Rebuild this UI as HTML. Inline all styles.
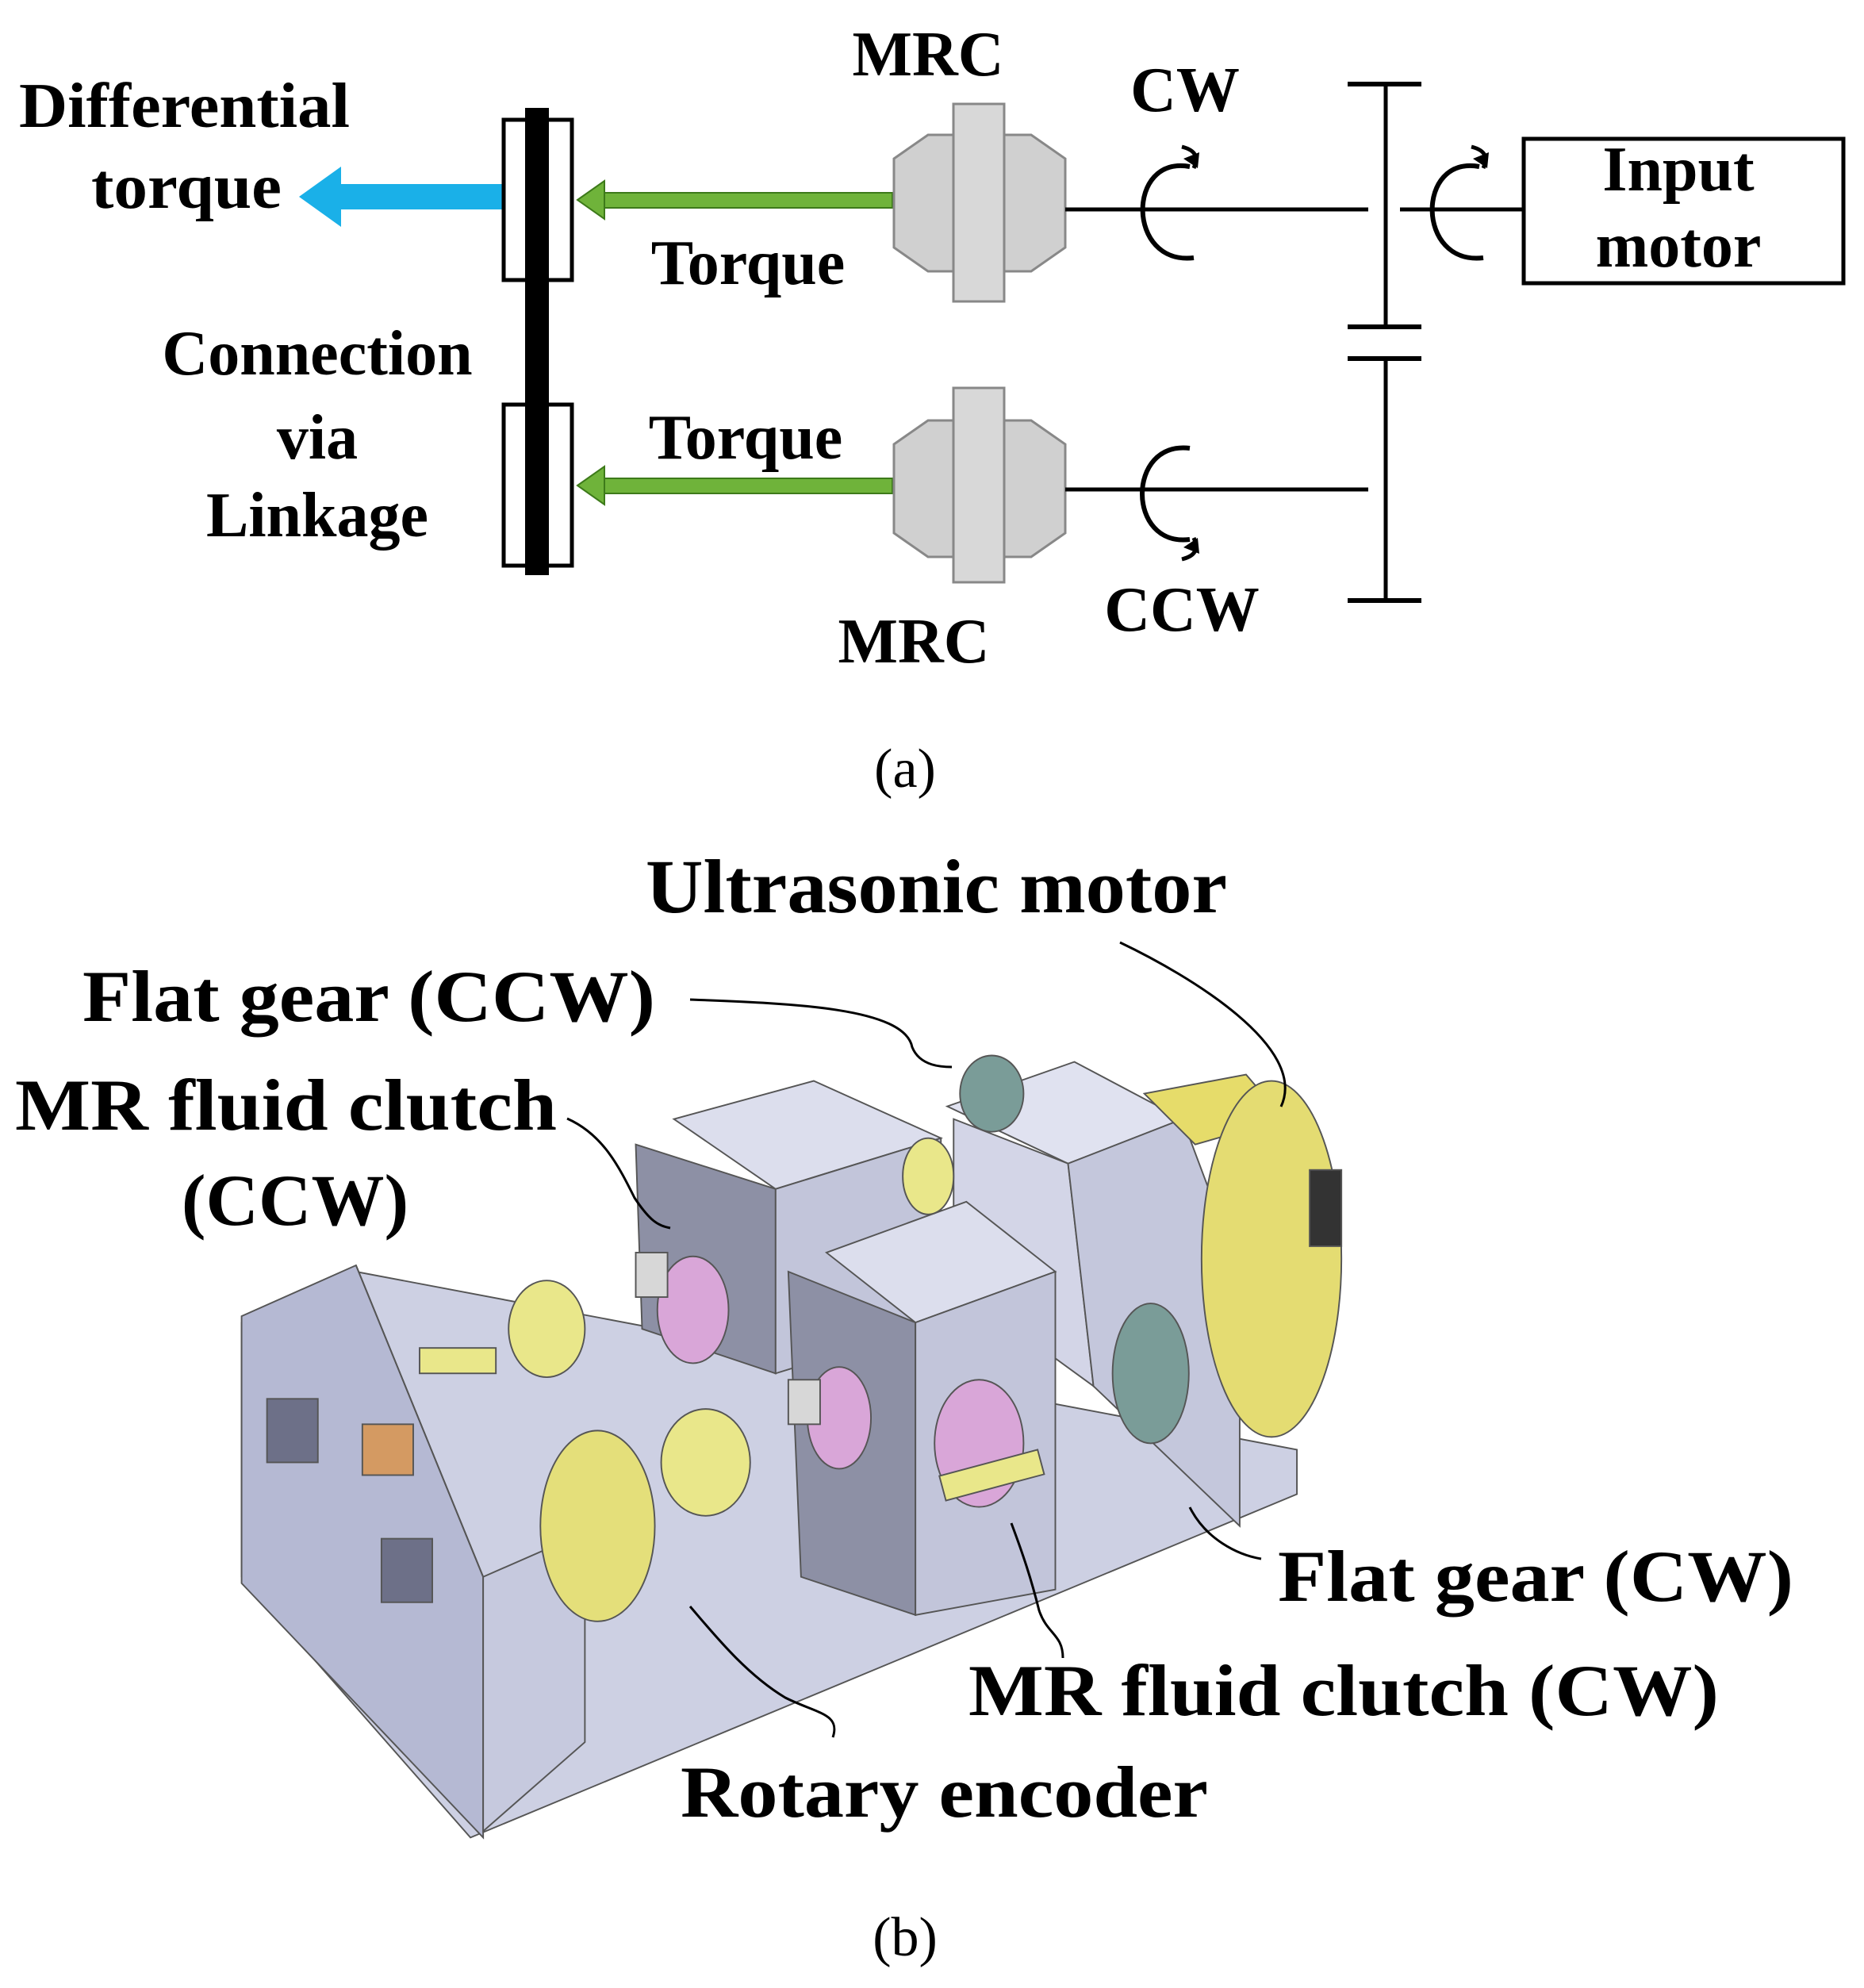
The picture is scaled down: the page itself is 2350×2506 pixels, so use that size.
<!DOCTYPE html>
<html><head><meta charset="utf-8"><style>
html,body{margin:0;padding:0;background:#fff;}
svg{display:block;}
text{font-family:"Liberation Serif",serif;font-weight:bold;fill:#000;}
</style></head><body>
<svg width="2350" height="2506" viewBox="0 0 2350 2506" xmlns="http://www.w3.org/2000/svg">
<defs>
<marker id="ah" markerWidth="10" markerHeight="10" refX="5" refY="5" orient="auto" markerUnits="userSpaceOnUse"></marker>
</defs>
<!-- Part (a) -->
<text x="24" y="160" font-size="80" textLength="417" lengthAdjust="spacingAndGlyphs">Differential</text>
<text x="115" y="262" font-size="80" textLength="240" lengthAdjust="spacingAndGlyphs">torque</text>
<!-- blue arrow -->
<rect x="430" y="232" width="205" height="32" fill="#1ab0e8"/>
<polygon points="377,248 430,210 430,286" fill="#1ab0e8"/>
<!-- linkage -->
<rect x="635" y="151" width="86" height="202" fill="#fff" stroke="#000" stroke-width="5"/>
<rect x="635" y="510" width="86" height="203" fill="#fff" stroke="#000" stroke-width="5"/>
<rect x="662" y="136" width="30" height="589" fill="#000"/>
<!-- green arrows -->
<rect x="760" y="243" width="365" height="19" fill="#6fb33a" stroke="#3d7a1a" stroke-width="2"/>
<polygon points="728,252 762,228 762,276" fill="#6fb33a" stroke="#3d7a1a" stroke-width="2"/>
<rect x="760" y="603" width="365" height="19" fill="#6fb33a" stroke="#3d7a1a" stroke-width="2"/>
<polygon points="728,612 762,588 762,636" fill="#6fb33a" stroke="#3d7a1a" stroke-width="2"/>
<!-- MRC upper -->
<polygon points="1127,200 1170,170 1300,170 1343,200 1343,312 1300,342 1170,342 1127,312" fill="#d0d0d0" stroke="#888" stroke-width="3"/>
<rect x="1202" y="131" width="64" height="249" fill="#d8d8d8" stroke="#888" stroke-width="3"/>
<!-- MRC lower -->
<polygon points="1127,560 1170,530 1300,530 1343,560 1343,672 1300,702 1170,702 1127,672" fill="#d0d0d0" stroke="#888" stroke-width="3"/>
<rect x="1202" y="489" width="64" height="245" fill="#d8d8d8" stroke="#888" stroke-width="3"/>
<!-- shafts -->
<line x1="1343" y1="264" x2="1725" y2="264" stroke="#000" stroke-width="5"/>
<line x1="1343" y1="617" x2="1725" y2="617" stroke="#000" stroke-width="5"/>
<line x1="1765" y1="264" x2="1919" y2="264" stroke="#000" stroke-width="5"/>
<!-- gears -->
<line x1="1747" y1="104" x2="1747" y2="412" stroke="#000" stroke-width="5"/>
<line x1="1699" y1="106" x2="1792" y2="106" stroke="#000" stroke-width="6"/>
<line x1="1699" y1="412" x2="1792" y2="412" stroke="#000" stroke-width="6"/>
<line x1="1747" y1="452" x2="1747" y2="757" stroke="#000" stroke-width="5"/>
<line x1="1699" y1="452" x2="1792" y2="452" stroke="#000" stroke-width="6"/>
<line x1="1699" y1="757" x2="1792" y2="757" stroke="#000" stroke-width="6"/>
<!-- input motor -->
<rect x="1921" y="175" width="403" height="182" fill="#fff" stroke="#000" stroke-width="5"/>
<text x="2116" y="240" font-size="80" text-anchor="middle">Input</text>
<text x="2116" y="336" font-size="80" text-anchor="middle">motor</text>
<!-- rotation symbols -->
<path d="M1500,210 C1420,195 1420,335 1505,325" fill="none" stroke="#000" stroke-width="6"/>
<path d="M1490,185 C1510,190 1510,200 1505,212" fill="none" stroke="#000" stroke-width="5"/>
<polygon points="1492,200 1510,212 1512,192" fill="#000"/>
<path d="M1865,210 C1785,195 1785,335 1870,325" fill="none" stroke="#000" stroke-width="6"/>
<path d="M1855,185 C1875,190 1875,200 1870,212" fill="none" stroke="#000" stroke-width="5"/>
<polygon points="1857,200 1875,212 1877,192" fill="#000"/>
<path d="M1500,565 C1420,555 1420,690 1500,680" fill="none" stroke="#000" stroke-width="6"/>
<path d="M1490,705 C1510,700 1510,690 1505,678" fill="none" stroke="#000" stroke-width="5"/>
<polygon points="1492,690 1510,678 1512,698" fill="#000"/>
<!-- labels -->
<text x="1170" y="95" font-size="80" text-anchor="middle">MRC</text>
<text x="1494" y="140" font-size="80" text-anchor="middle">CW</text>
<text x="943" y="358" font-size="80" text-anchor="middle">Torque</text>
<text x="940" y="578" font-size="80" text-anchor="middle">Torque</text>
<text x="1490" y="795" font-size="80" text-anchor="middle">CCW</text>
<text x="1152" y="835" font-size="80" text-anchor="middle">MRC</text>
<text x="400" y="472" font-size="80" text-anchor="middle">Connection</text>
<text x="400" y="578" font-size="80" text-anchor="middle">via</text>
<text x="400" y="676" font-size="80" text-anchor="middle">Linkage</text>
<text x="1141" y="992" font-size="70" text-anchor="middle" font-weight="normal" style="font-weight:normal">(a)</text>

<!-- Part (b) machine -->
<g transform="scale(1.603)" stroke="#555" stroke-width="1.2">
<polygon points="190,1040 280,1000 1020,1140 1020,1175 370,1445 190,1240" fill="#cdd0e3"/>
<polygon points="190,1035 280,995 380,1240 380,1445 190,1245" fill="#b5b9d3"/>
<polygon points="280,995 380,1240 460,1205 460,1370 380,1440 380,1240" fill="#c6c9de"/>
<polygon points="500,900 610,935 610,1080 505,1045" fill="#8d90a5"/>
<polygon points="530,880 640,850 740,895 610,935" fill="#dcdeed"/>
<polygon points="610,935 740,895 740,1040 610,1080" fill="#c2c5da"/>
<polygon points="745,870 845,835 930,880 840,915" fill="#e0e2f0"/>
<polygon points="750,880 840,915 860,1090 750,1010" fill="#d3d5e7"/>
<polygon points="840,915 930,880 975,1000 975,1200 860,1090" fill="#c4c7dc"/>
<polygon points="900,860 980,845 1010,880 940,900" fill="#e6dc6a"/>
<ellipse cx="1000" cy="990" rx="55" ry="140" fill="#e4dc72"/>
<rect x="1030" y="920" width="25" height="60" fill="#333"/>
<ellipse cx="905" cy="1080" rx="30" ry="55" fill="#7a9c98"/>
<ellipse cx="780" cy="860" rx="25" ry="30" fill="#7a9c98"/>
<polygon points="620,1000 720,1040 720,1270 630,1240" fill="#8d90a5"/>
<polygon points="650,985 760,945 830,1000 720,1040" fill="#dcdeed"/>
<polygon points="720,1040 830,1000 830,1250 720,1270" fill="#c2c5da"/>
<ellipse cx="770" cy="1135" rx="35" ry="50" fill="#d9a6d8"/>
<ellipse cx="545" cy="1030" rx="28" ry="42" fill="#d9a6d8"/>
<ellipse cx="660" cy="1115" rx="25" ry="40" fill="#d9a6d8"/>
<ellipse cx="430" cy="1045" rx="30" ry="38" fill="#e9e78a"/>
<ellipse cx="730" cy="925" rx="20" ry="30" fill="#e9e78a"/>
<ellipse cx="555" cy="1150" rx="35" ry="42" fill="#e9e78a"/>
<ellipse cx="470" cy="1200" rx="45" ry="75" fill="#e4df7a"/>
<rect x="330" y="1060" width="60" height="20" fill="#e9e78a"/>
<rect x="740" y="1150" width="80" height="20" fill="#e9e78a" transform="rotate(-15 780 1160)"/>
<rect x="285" y="1120" width="40" height="40" fill="#d49a62"/>
<rect x="210" y="1100" width="40" height="50" fill="#6d7088"/>
<rect x="300" y="1210" width="40" height="50" fill="#6d7088"/>
<rect x="500" y="985" width="25" height="35" fill="#d7d7d7"/>
<rect x="620" y="1085" width="25" height="35" fill="#d7d7d7"/>
</g>
<!-- leader lines -->
<g fill="none" stroke="#000" stroke-width="3">
<path d="M870,1260 C1000,1265 1140,1270 1150,1320 C1160,1345 1190,1345 1200,1345"/>
<path d="M1412,1188 C1500,1230 1650,1320 1615,1395"/>
<path d="M715,1410 C760,1430 780,1470 800,1510 C820,1540 830,1545 845,1548"/>
<path d="M1590,1965 C1560,1960 1520,1940 1500,1900"/>
<path d="M1340,2090 C1340,2060 1320,2060 1310,2030 C1300,1990 1290,1960 1275,1920"/>
<path d="M1050,2190 C1060,2160 1030,2160 990,2140 C940,2110 900,2060 870,2025"/>
</g>
<!-- Part (b) labels -->
<text x="814" y="1150" font-size="96" textLength="733" lengthAdjust="spacingAndGlyphs">Ultrasonic motor</text>
<text x="104" y="1287" font-size="92" textLength="722" lengthAdjust="spacingAndGlyphs">Flat gear (CCW)</text>
<text x="19" y="1424" font-size="92" textLength="683" lengthAdjust="spacingAndGlyphs">MR fluid clutch</text>
<text x="372" y="1544" font-size="92" text-anchor="middle">(CCW)</text>
<text x="1611" y="2018" font-size="92" textLength="650" lengthAdjust="spacingAndGlyphs">Flat gear (CW)</text>
<text x="1221" y="2162" font-size="92" textLength="946" lengthAdjust="spacingAndGlyphs">MR fluid clutch (CW)</text>
<text x="858" y="2290" font-size="92" textLength="665" lengthAdjust="spacingAndGlyphs">Rotary encoder</text>
<text x="1141" y="2465" font-size="70" text-anchor="middle" style="font-weight:normal">(b)</text>
</svg>
</body></html>
